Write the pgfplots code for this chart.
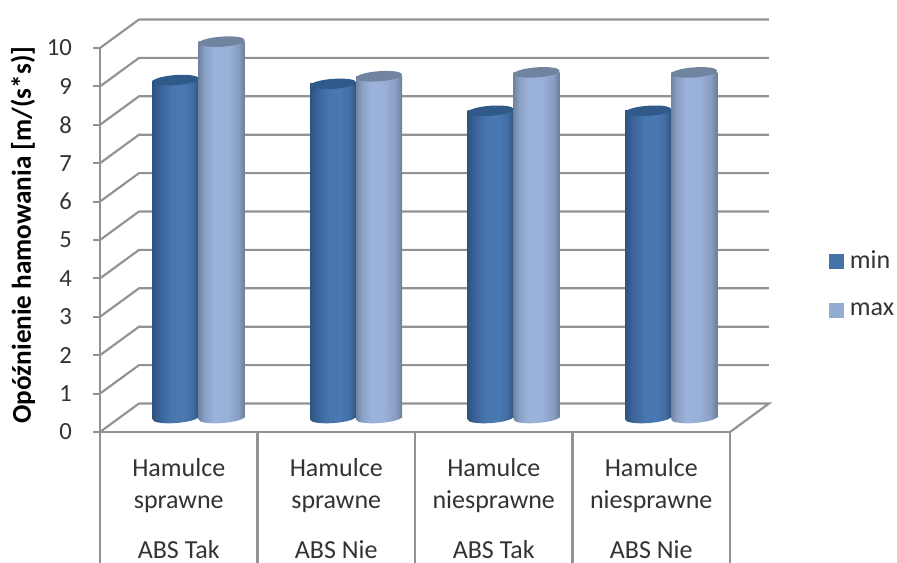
\documentclass[border=0pt]{standalone}
\usepackage{pgfplots}
\pgfplotsset{compat=1.18}
\usepackage{fontspec}
\setmainfont{Carlito}
\definecolor{gridc}{HTML}{929292}
\definecolor{capmin}{HTML}{2F5A8A}
\definecolor{capmax}{HTML}{71849F}
\definecolor{legmin}{HTML}{4573A7}
\definecolor{legmax}{HTML}{94ABD2}
\pgfdeclarehorizontalshading{cylindermin}{100bp}{
  rgb(0bp)=(0.18,0.33,0.50);
  rgb(25bp)=(0.18,0.33,0.50);
  rgb(33bp)=(0.23,0.39,0.60);
  rgb(45bp)=(0.28,0.46,0.68);
  rgb(58bp)=(0.29,0.47,0.70);
  rgb(68bp)=(0.26,0.43,0.64);
  rgb(75bp)=(0.18,0.33,0.50);
  rgb(100bp)=(0.18,0.33,0.50)}
\pgfdeclarehorizontalshading{cylindermax}{100bp}{
  rgb(0bp)=(0.45,0.52,0.63);
  rgb(25bp)=(0.45,0.52,0.63);
  rgb(31bp)=(0.54,0.63,0.78);
  rgb(42bp)=(0.61,0.70,0.86);
  rgb(56bp)=(0.60,0.69,0.85);
  rgb(68bp)=(0.53,0.62,0.76);
  rgb(75bp)=(0.42,0.49,0.60);
  rgb(100bp)=(0.42,0.49,0.60)}
\newcommand\lowerhalf{%
  \pgfpathmoveto{\pgfqpoint{-17.25pt}{-1.2pt}}%
  \pgfpathcurveto{\pgfqpoint{-17.25pt}{-3.3pt}}{\pgfqpoint{-9.53pt}{-4.46pt}}{\pgfqpoint{0pt}{-3.8pt}}%
  \pgfpathcurveto{\pgfqpoint{9.53pt}{-3.14pt}}{\pgfqpoint{17.25pt}{-0.9pt}}{\pgfqpoint{17.25pt}{1.2pt}}%
  \pgfpathlineto{\pgfqpoint{17.25pt}{2pt}}%
  \pgfpathlineto{\pgfqpoint{-17.25pt}{2pt}}%
  \pgfpathclose}
\pgfdeclareplotmark{basemin}{\lowerhalf\pgfshadepath{cylindermin}{0}\pgfusepath{discard}}
\pgfdeclareplotmark{basemax}{\lowerhalf\pgfshadepath{cylindermax}{0}\pgfusepath{discard}}
\pgfdeclareplotmark{topmin}{%
  \pgfpathellipse{\pgfpointorigin}{\pgfqpoint{17.25pt}{1.2pt}}{\pgfqpoint{0pt}{3.8pt}}%
  \pgfsetfillcolor{capmin}\pgfusepath{fill}}
\pgfdeclareplotmark{topmax}{%
  \pgfpathellipse{\pgfpointorigin}{\pgfqpoint{17.25pt}{1.2pt}}{\pgfqpoint{0pt}{3.8pt}}%
  \pgfsetfillcolor{capmax}\pgfusepath{fill}}
\pgfplotsset{
  mincyl/.style={ybar,bar width=34.5pt,bar shift=0pt,draw=none,shading=cylindermin,forget plot,xshift=-2.25pt,yshift=10.5pt},
  maxcyl/.style={ybar,bar width=34.5pt,bar shift=0pt,draw=none,shading=cylindermax,forget plot,xshift=32.25pt,yshift=10.5pt},
}
\begin{document}
\begin{tikzpicture}
\path[use as bounding box] (-75pt,-98.25pt) rectangle (597.75pt,324pt);
\begin{axis}[
  scale only axis, width=472.5pt, height=288pt,
  xmin=0, xmax=4, ymin=0, ymax=10, clip=false,
  axis lines=left, axis line style={-,gridc,line width=1.6pt},
  every tick/.style={gridc,line width=1.6pt},
  tick align=outside,
  xtick={0.5,1.5,2.5,3.5}, major x tick style={draw=none},
  xticklabels={{Hamulce\\sprawne\\[13pt]ABS Tak},{Hamulce\\sprawne\\[13pt]ABS Nie},{Hamulce\\niesprawne\\[13pt]ABS Tak},{Hamulce\\niesprawne\\[13pt]ABS Nie}},
  xticklabel style={align=center,font=\fontsize{19.5}{24}\selectfont,text=black!80,yshift=-11pt},
  minor xtick={0,1,2,3,4},
  minor tick length=98.25pt,
  ytick={0,1,...,10}, major tick length=5.5pt,
  yticklabel style={font=\fontsize{18.5}{22}\selectfont,text=black!80,xshift=-12pt},
  /pgf/number format/assume math mode=true,
  ylabel={\bfseries Opóźnienie hamowania [m/(s*s)]},
  every axis y label/.style={at={(axis cs:-0.49,5.13)},rotate=90,anchor=center,font=\fontsize{20.4}{22}\selectfont},
  legend style={at={(axis cs:4.625,3.85)},anchor=west,draw=none,fill=none,inner sep=0pt,
    font=\fontsize{19.5}{22}\selectfont,text=black!80,row sep=20pt,
    /tikz/every odd column/.style={column sep=3pt}},
  legend cell align=left,
  legend image code/.code={\fill[#1] (0pt,-5.25pt) rectangle (10.5pt,5.25pt);},
]
\addlegendimage{legmin}\addlegendentry{min}
\addlegendimage{legmax}\addlegendentry{max}
% walls and floor
\addplot[gridc,line width=1.6pt,forget plot,unbounded coords=jump] coordinates {
 (0,0) (0.2476,0.742) (4.2476,0.742) (4,0) (nan,nan)
 (0,1) (0.2476,1.742) (4.2476,1.742) (nan,nan)
 (0,2) (0.2476,2.742) (4.2476,2.742) (nan,nan)
 (0,3) (0.2476,3.742) (4.2476,3.742) (nan,nan)
 (0,4) (0.2476,4.742) (4.2476,4.742) (nan,nan)
 (0,5) (0.2476,5.742) (4.2476,5.742) (nan,nan)
 (0,6) (0.2476,6.742) (4.2476,6.742) (nan,nan)
 (0,7) (0.2476,7.742) (4.2476,7.742) (nan,nan)
 (0,8) (0.2476,8.742) (4.2476,8.742) (nan,nan)
 (0,9) (0.2476,9.742) (4.2476,9.742) (nan,nan)
 (0,10) (0.2476,10.742) (4.2476,10.742)
};
% min cylinders
\addplot[only marks,mark=basemin,forget plot,xshift=-2.25pt,yshift=10.5pt] coordinates {(0.5,0)(1.5,0)(2.5,0)(3.5,0)};
\addplot[mincyl] coordinates {(0.5,8.8)};
\addplot[mincyl] coordinates {(1.5,8.7)};
\addplot[mincyl] coordinates {(2.5,8.0)};
\addplot[mincyl] coordinates {(3.5,8.0)};
\addplot[only marks,mark=topmin,forget plot,xshift=-2.25pt,yshift=10.5pt] coordinates {(0.5,8.8)(1.5,8.7)(2.5,8.0)(3.5,8.0)};
% max cylinders
\addplot[only marks,mark=basemax,forget plot,xshift=32.25pt,yshift=10.5pt] coordinates {(0.5,0)(1.5,0)(2.5,0)(3.5,0)};
\addplot[maxcyl] coordinates {(0.5,9.8)};
\addplot[maxcyl] coordinates {(1.5,8.9)};
\addplot[maxcyl] coordinates {(2.5,9.0)};
\addplot[maxcyl] coordinates {(3.5,9.0)};
\addplot[only marks,mark=topmax,forget plot,xshift=32.25pt,yshift=10.5pt] coordinates {(0.5,9.8)(1.5,8.9)(2.5,9.0)(3.5,9.0)};
\end{axis}
\end{tikzpicture}
\end{document}
